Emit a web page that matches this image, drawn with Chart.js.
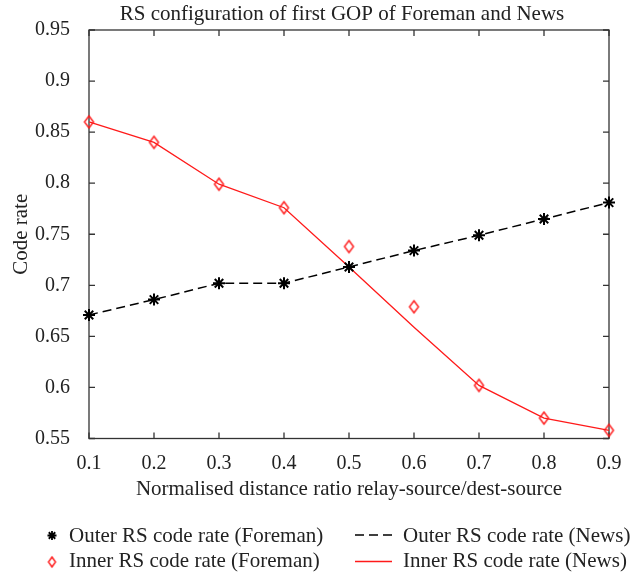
<!DOCTYPE html>
<html>
<head>
<meta charset="utf-8">
<script src="https://cdn.jsdelivr.net/npm/chart.js@4.4.1/dist/chart.umd.min.js"></script>
<style>
  body { margin: 0; background: #fff; }
  #wrap { width: 640px; height: 577px; }
</style>
</head>
<body>
<div id="wrap"><canvas id="myChart"></canvas></div>
<script>
// values
var xValues = [0.1, 0.2, 0.3, 0.4, 0.5, 0.6, 0.7, 0.8, 0.9];
var outerForeman = [0.671, 0.686, 0.702, 0.702, 0.718, 0.734, 0.749, 0.765, 0.781];
var outerNews = [0.671, 0.686, 0.702, 0.702, 0.718, 0.734, 0.749, 0.765, 0.781];
var innerForeman = [0.860, 0.840, 0.799, 0.776, 0.738, 0.679, 0.602, 0.570, 0.558];
var innerNews = [0.860, 0.840, 0.799, 0.776, 0.718, 0.659, 0.602, 0.570, 0.558];
var xTicks = [0.1, 0.2, 0.3, 0.4, 0.5, 0.6, 0.7, 0.8, 0.9];
var yTicks = [0.55, 0.6, 0.65, 0.7, 0.75, 0.8, 0.85, 0.9, 0.95];

var serif = "'Liberation Serif', 'DejaVu Serif', serif";
var red = "#ff1a1a";

function toPoints(ys) {
  return xValues.map(function (x, i) { return { x: x, y: ys[i] }; });
}

// tall thin diamond marker
function makeDiamond(w, h, color) {
  var c = document.createElement("canvas");
  c.width = w + 4;
  c.height = h + 4;
  var g = c.getContext("2d");
  g.strokeStyle = color;
  g.lineWidth = 1.4;
  g.beginPath();
  g.moveTo(c.width / 2, 2);
  g.lineTo(c.width - 2, c.height / 2);
  g.lineTo(c.width / 2, c.height - 2);
  g.lineTo(2, c.height / 2);
  g.closePath();
  g.stroke();
  return c;
}
var diamond = makeDiamond(9, 12, red);
var smallDiamond = makeDiamond(7, 10, red);

function drawStar(ctx, x, y, r) {
  ctx.beginPath();
  ctx.moveTo(x - r, y); ctx.lineTo(x + r, y);
  ctx.moveTo(x, y - r); ctx.lineTo(x, y + r);
  var d = r * 0.72;
  ctx.moveTo(x - d, y - d); ctx.lineTo(x + d, y + d);
  ctx.moveTo(x - d, y + d); ctx.lineTo(x + d, y - d);
  ctx.stroke();
}

var framePlugin = {
  id: "frame",
  beforeDatasetsDraw: function (chart) {
    var ctx = chart.ctx, a = chart.chartArea;
    var xs = chart.scales.x, ys = chart.scales.y;
    ctx.save();
    ctx.strokeStyle = "#333";
    ctx.lineWidth = 1.3;
    ctx.strokeRect(a.left, a.top, a.right - a.left, a.bottom - a.top);
    ctx.beginPath();
    xTicks.forEach(function (v) {
      var px = xs.getPixelForValue(v);
      ctx.moveTo(px, a.bottom); ctx.lineTo(px, a.bottom - 6);
      ctx.moveTo(px, a.top); ctx.lineTo(px, a.top + 6);
    });
    yTicks.forEach(function (v) {
      var py = ys.getPixelForValue(v);
      ctx.moveTo(a.left, py); ctx.lineTo(a.left + 6, py);
      ctx.moveTo(a.right, py); ctx.lineTo(a.right - 6, py);
    });
    ctx.stroke();
    ctx.restore();
  },
  afterDraw: function (chart) {
    var ctx = chart.ctx, a = chart.chartArea;
    var labels = chart.data.datasets.map(function (d) { return d.label; });
    ctx.save();
    ctx.fillStyle = "#222";
    ctx.textBaseline = "alphabetic";

    // title
    ctx.font = "21px " + serif;
    ctx.textAlign = "center";
    ctx.fillText("RS configuration of first GOP of Foreman and News", (a.left + a.right) / 2 - 7, 20);

    // legend, two columns
    ctx.textAlign = "left";
    ctx.fillText(labels[0], 69, 541.5);
    ctx.fillText(labels[1], 403, 541.5);
    ctx.fillText(labels[2], 69, 567);
    ctx.fillText(labels[3], 403, 567);

    ctx.strokeStyle = "#000";
    ctx.lineWidth = 1.8;
    drawStar(ctx, 52, 535.5, 4.5);

    ctx.lineWidth = 1.4;
    ctx.setLineDash([9, 5]);
    ctx.beginPath();
    ctx.moveTo(355, 535); ctx.lineTo(392, 535);
    ctx.stroke();
    ctx.setLineDash([]);

    ctx.drawImage(smallDiamond, 52 - smallDiamond.width / 2, 562 - smallDiamond.height / 2);

    ctx.strokeStyle = red;
    ctx.lineWidth = 1.3;
    ctx.beginPath();
    ctx.moveTo(355, 561.5); ctx.lineTo(392, 561.5);
    ctx.stroke();
    ctx.restore();
  }
};

window.onload = function () {
  var ctx = document.getElementById("myChart").getContext("2d");

  var myChart = new Chart(ctx, {
    type: "line",
    data: {
      datasets: [
        {
          label: "Outer RS code rate (Foreman)",
          data: toPoints(outerForeman),
          showLine: false,
          pointStyle: "star",
          pointRadius: 6,
          borderColor: "#000",
          backgroundColor: "#000",
          pointBorderWidth: 2,
          clip: false,
        },
        {
          label: "Outer RS code rate (News)",
          data: toPoints(outerNews),
          borderColor: "#000",
          borderWidth: 1.5,
          borderDash: [9, 5],
          pointRadius: 0,
          fill: false,
          clip: false,
        },
        {
          label: "Inner RS code rate (Foreman)",
          data: toPoints(innerForeman),
          showLine: false,
          pointStyle: diamond,
          borderColor: red,
          clip: false,
        },
        {
          label: "Inner RS code rate (News)",
          data: toPoints(innerNews),
          borderColor: red,
          borderWidth: 1.3,
          pointRadius: 0,
          fill: false,
          clip: false,
        },
      ],
    },
    options: {
      responsive: true,
      maintainAspectRatio: false,
      animation: false,
      layout: { padding: { top: 30, right: 31, bottom: 72, left: 0 } },
      plugins: {
        legend: { display: false },
        tooltip: { enabled: false },
      },
      scales: {
        x: {
          type: "linear",
          min: 0.1,
          max: 0.9,
          afterBuildTicks: function (scale) {
            scale.ticks = xTicks.map(function (v) { return { value: v }; });
          },
          afterFit: function (scale) { scale.height = 66.5; },
          grid: { display: false },
          border: { display: false },
          ticks: {
            padding: 5,
            color: "#222",
            font: { family: serif, size: 20 },
            callback: function (v) { return String(v); },
          },
          title: {
            display: true,
            text: "Normalised distance ratio relay-source/dest-source",
            color: "#222",
            font: { family: serif, size: 21 },
            padding: { top: 0, bottom: 3 },
          },
        },
        y: {
          min: 0.55,
          max: 0.95,
          afterBuildTicks: function (scale) {
            scale.ticks = yTicks.map(function (v) { return { value: v }; });
          },
          afterFit: function (scale) { scale.width = 89; },
          grid: { display: false },
          border: { display: false },
          ticks: {
            padding: 11,
            color: "#222",
            font: { family: serif, size: 20 },
            callback: function (v) { return String(v); },
          },
          title: {
            display: true,
            text: "Code rate",
            color: "#222",
            font: { family: serif, size: 21 },
            padding: { top: 8.4, bottom: 0 },
          },
        },
      },
    },
    plugins: [framePlugin],
  });
};
</script>
</body>
</html>
